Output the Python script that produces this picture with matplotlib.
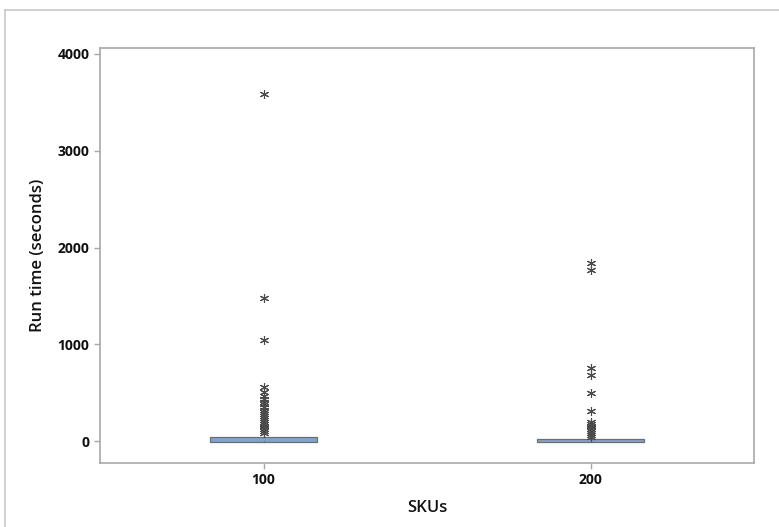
import numpy as np
import matplotlib
matplotlib.use("Agg")
import matplotlib.pyplot as plt
from matplotlib.lines import Line2D

plt.rcParams['font.family'] = ['Open Sans', 'DejaVu Sans']

# data
skus = [100, 200]
q1 = [-5, -8]
median = [10, 3]
q3 = [40, 18]
whisker_lo = [0, 0]
whisker_hi = [80, 30]
outliers_100 = [3590, 1475, 1040, 560, 510, 470, 430, 400, 380, 350, 320, 300,
                280, 260, 240, 220, 200, 180, 160, 140, 120, 100, 80]
outliers_200 = [1845, 1770, 755, 685, 500, 310, 200, 180, 160, 140, 120,
                100, 80, 60, 45]

box_color = '#7DA4D6'
edge_color = '#6E6E6E'
spine_color = '#A8A8A8'

fig = plt.figure(figsize=(7.79, 5.27), dpi=100)
ax = fig.add_axes([100/779, 1-463/527, 654/779, 415/527])

# build the box stats from the arrays above
stats = []
for i, s in enumerate(skus):
    stats.append(dict(label=str(s), q1=q1[i], med=median[i], q3=q3[i],
                      whislo=whisker_lo[i], whishi=whisker_hi[i],
                      fliers=[outliers_100, outliers_200][i]))

ax.bxp(stats, positions=skus, widths=33, patch_artist=True, showcaps=False,
       boxprops=dict(facecolor=box_color, edgecolor=edge_color, linewidth=0.9),
       medianprops=dict(linewidth=0),
       whiskerprops=dict(color=edge_color, linewidth=0.8),
       flierprops=dict(marker=(6, 2, 0), markersize=6.5, markeredgecolor='#4a4a4a',
                       markerfacecolor='none', markeredgewidth=0.8, linestyle='none'))

ax.set_xlim(50, 250)
ax.set_ylim(-227, 4062)
ax.set_xticks(skus)
ax.set_xticklabels([str(s) for s in skus])
ax.set_yticks([0, 1000, 2000, 3000, 4000])

for sp in ax.spines.values():
    sp.set_color(spine_color)
    sp.set_linewidth(1.2)
ax.tick_params(colors=spine_color, labelcolor='#111111', length=4, width=1,
               labelsize=10)
for lab in ax.get_xticklabels() + ax.get_yticklabels():
    lab.set_fontweight('bold')

ax.set_ylabel('Run time (seconds)', fontsize=12, color='#111111', labelpad=8,
              fontweight='semibold')
ax.set_xlabel('SKUs', fontsize=12, color='#111111', labelpad=9,
              fontweight='semibold')

# light frame around the graph window
fig.add_artist(Line2D([5/779, 5/779], [0, 1-10/527], color='#C8C8C8', lw=1.2,
                      transform=fig.transFigure))
fig.add_artist(Line2D([5/779, 1], [1-10/527, 1-10/527], color='#C8C8C8', lw=1.2,
                      transform=fig.transFigure))

fig.savefig('out.png', dpi=100)
